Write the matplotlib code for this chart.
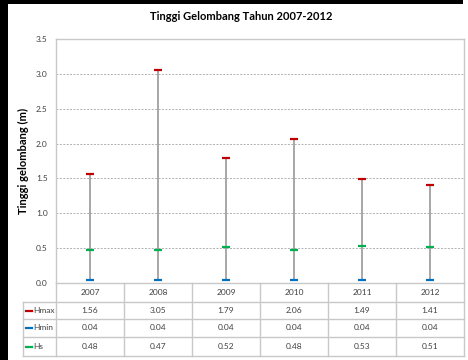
import matplotlib.pyplot as plt
from matplotlib.lines import Line2D
from matplotlib.patches import Rectangle

years = ['2007', '2008', '2009', '2010', '2011', '2012']
hmax = [1.56, 3.05, 1.79, 2.06, 1.49, 1.41]
hmin = [0.04, 0.04, 0.04, 0.04, 0.04, 0.04]
hs = [0.48, 0.47, 0.52, 0.48, 0.53, 0.51]

series = [('Hmax', hmax, '#c00000'), ('Hmin', hmin, '#0070c0'), ('Hs', hs, '#00b050')]

plt.rcParams['font.family'] = ['Lato', 'DejaVu Sans']
TXT = '#404040'
GRID = '#b0b0b0'
LINE = '#c8c8c8'

fig = plt.figure(figsize=(4.68, 3.6), dpi=100, facecolor='white')
ax = fig.add_axes([56 / 468, 77 / 360, 408 / 468, 244 / 360])

x = list(range(len(years)))

# high-low lines
ax.vlines(x, hmin, hmax, color='#a0a0a0', lw=1.3, zorder=2)
for name, vals, col in series:
    ax.scatter(x, vals, marker='_', s=26, linewidths=1.6, color=col, zorder=3)

ax.set_xlim(-0.5, len(years) - 0.5)
ax.set_ylim(0, 3.5)
ax.set_yticks([0, 0.5, 1.0, 1.5, 2.0, 2.5, 3.0, 3.5])
ax.set_yticklabels(['%.1f' % v for v in ax.get_yticks()])
ax.set_xticks([])
ax.tick_params(axis='y', length=0, labelsize=6, colors=TXT, pad=6)
ax.yaxis.grid(True, color=GRID, lw=0.7, ls=(0, (2, 1.5)))
ax.set_axisbelow(True)
for s in ax.spines.values():
    s.set_color(LINE)
    s.set_linewidth(1.0)
ax.spines['bottom'].set_visible(False)

ax.set_ylabel('Tinggi gelombang (m)', fontsize=8, fontweight='bold', color='black', labelpad=5)
fig.text(241 / 468, 1 - 16 / 360, 'Tinggi Gelombang Tahun 2007-2012',
         ha='center', va='center', fontsize=8, fontweight='bold', color='black')

# data table under the plot
tr = ax.get_xaxis_transform()
rows_y = [0, -19 / 244, -36 / 244, -54 / 244, -73 / 244]
lab_left = -0.5 - 33 / 68
right = len(years) - 0.5

# horizontal rules
ax.add_line(Line2D([-0.5, right], [rows_y[0]] * 2, transform=tr, color=LINE, lw=1.0, clip_on=False))
for yy in rows_y[1:]:
    ax.add_line(Line2D([lab_left, right], [yy] * 2, transform=tr, color=LINE, lw=1.0, clip_on=False))
# vertical rules
for i in range(len(years) + 1):
    ax.add_line(Line2D([i - 0.5] * 2, [rows_y[0], rows_y[-1]], transform=tr, color=LINE, lw=1.0, clip_on=False))
ax.add_line(Line2D([lab_left] * 2, [rows_y[1], rows_y[-1]], transform=tr, color=LINE, lw=1.0, clip_on=False))

for i, yr in enumerate(years):
    ax.text(i, (rows_y[0] + rows_y[1]) / 2, yr, transform=tr, ha='center', va='center',
            fontsize=6, color=TXT, clip_on=False)

for r, (name, vals, col) in enumerate(series):
    yc = (rows_y[r + 1] + rows_y[r + 2]) / 2
    ax.add_line(Line2D([lab_left + 0.04, lab_left + 0.13], [yc, yc], transform=tr, color=col,
                       lw=1.6, clip_on=False))
    ax.text(lab_left + 0.15, yc, name, transform=tr, ha='left', va='center',
            fontsize=6, color=TXT, clip_on=False)
    for i, v in enumerate(vals):
        ax.text(i, yc, '%.2f' % v, transform=tr, ha='center', va='center',
                fontsize=6, color=TXT, clip_on=False)

# dark frame along the top and left edges
for (x0, y0, w, h) in ((0, 0, 8 / 468, 1), (0, 1 - 4 / 360, 463 / 468, 4 / 360)):
    ax.add_patch(Rectangle((x0, y0), w, h, transform=fig.transFigure, facecolor='#000000',
                           edgecolor='none', clip_on=False, zorder=20))

fig.savefig('out.png', dpi=100, facecolor='white')
